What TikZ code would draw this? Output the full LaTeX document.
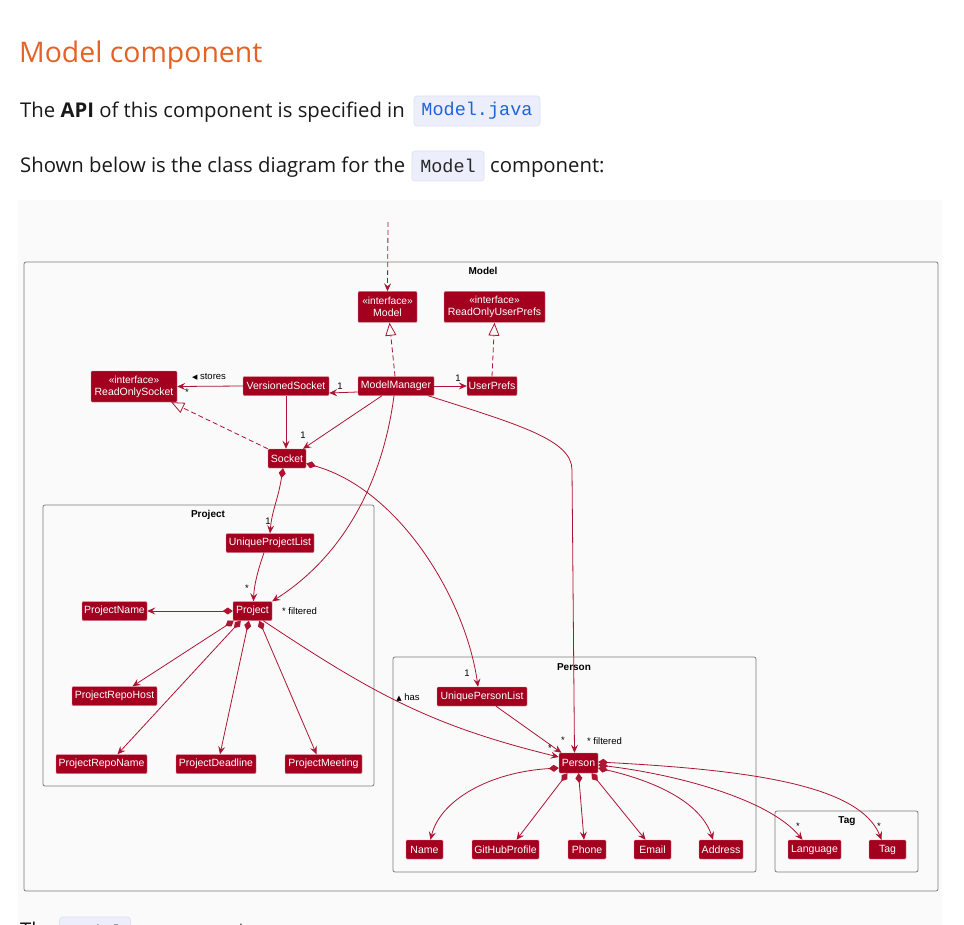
\documentclass[tikz,border=0pt]{standalone}
\usepackage{fontspec}
\setmainfont{Open Sans}
\newfontfamily\umlfont{Liberation Sans}
\newfontfamily\symfont{DejaVu Sans}
\newfontfamily\codefont{Liberation Mono}
\usetikzlibrary{arrows.meta}
\definecolor{umlfill}{RGB}{163,0,32}
\definecolor{umledge}{RGB}{172,20,50}
\definecolor{umlrim}{RGB}{225,140,150}
\definecolor{pkggray}{RGB}{125,125,125}
\definecolor{headorange}{RGB}{229,98,38}
\definecolor{codebg}{RGB}{236,239,251}
\definecolor{codeborder}{RGB}{220,224,242}
\definecolor{codeblue}{RGB}{30,100,215}
\definecolor{codedark}{RGB}{40,40,40}
\definecolor{panelbg}{RGB}{250,250,250}
\definecolor{bodytext}{RGB}{25,25,25}
\begin{document}
\begin{tikzpicture}[x=1pt,y=-1pt,
  cls/.style={fill=umlfill, draw=umlrim, line width=0.4pt, text=white,
    font=\umlfont\fontsize{10.5}{12}\selectfont, inner sep=0pt,
    minimum height=19pt, rounded corners=1pt},
  iface/.style={cls, minimum height=31pt, align=center},
  pkg/.style={draw=pkggray, line width=0.8pt, rounded corners=2pt},
  pkgtitle/.style={font=\umlfont\bfseries\fontsize{10}{12}\selectfont, inner sep=0pt},
  lbl/.style={font=\umlfont\fontsize{9.5}{11}\selectfont, inner sep=0pt, text=black},
  edge/.style={draw=umledge, line width=0.8pt, -{Stealth[length=8pt,width=7pt,inset=3pt]}},
  comp/.style={draw=umledge, line width=0.8pt, {Diamond[length=10pt,width=7pt]}-{Stealth[length=8pt,width=7pt,inset=3pt]}},
  real/.style={draw=umledge, line width=0.8pt, dash pattern=on 5pt off 3pt, -{Triangle[open,length=13pt,width=11pt]}},
  body/.style={font=\fontsize{20.3}{24}\selectfont, text=bodytext, inner sep=0pt, anchor=base west},
  codebox/.style={fill=codebg, draw=codeborder, line width=0.6pt, rounded corners=3pt, inner sep=0pt, minimum height=30pt, font=\codefont\fontsize{18.5}{20}\selectfont}
]
\useasboundingbox (0,0) rectangle (964,925);
\clip (0,0) rectangle (964,925);
\fill[white] (0,0) rectangle (964,925);
\fill[panelbg] (18,200) rectangle (942,925);

% header text
\node[anchor=base west, inner sep=0pt, text=headorange, font=\fontsize{28.4}{32}\selectfont] (title) at (19,63) {Model component};
\node[body] (l2) at (20,118) {The \textbf{API} of this component is specified in};
\node[codebox, minimum width=126pt, text=codeblue] (c1) at (477,111) {Model.java};
\node[body] (l3) at (20,173) {Shown below is the class diagram for the};
\node[codebox, minimum width=72pt, text=codedark] (c2) at (448,166) {Model};
\node[body] (l3b) at (490,173) {component:};
\node[body] (l4) at (20,937) {The};
\node[codebox, minimum width=71pt, text=codedark] (c3) at (95,932) {Model};
\node[body] (l4b) at (136,937) {component};

% packages
\draw[pkg] (24,262) rectangle (938,891);
\node[pkgtitle] (tmodel) at (483,271) {Model};
\draw[pkg] (43,505) rectangle (374,786);
\node[pkgtitle] (tproject) at (208,515) {Project};
\draw[pkg] (393,657) rectangle (756,872);
\node[pkgtitle] (tperson) at (574,667) {Person};
\draw[pkg] (775,811) rectangle (918,872);
\node[pkgtitle] (ttag) at (847,821) {Tag};

% classes
\node[iface, minimum width=59pt] (model) at (387.5,307) {{\fontsize{10.2}{12}\selectfont «interface»}\\Model};
\node[iface, minimum width=101pt] (rup) at (494.5,307) {{\fontsize{10.2}{12}\selectfont «interface»}\\ReadOnlyUserPrefs};
\node[iface, minimum width=86pt] (ros) at (134,386.5) {{\fontsize{10.2}{12}\selectfont «interface»}\\ReadOnlySocket};
\node[cls, minimum width=86pt] (vs) at (286,386) {VersionedSocket};
\node[cls, minimum width=76pt] (mm) at (396,386) {ModelManager};
\node[cls, minimum width=50pt] (up) at (492,386) {UserPrefs};
\node[cls, minimum width=38pt] (sock) at (287,458.5) {Socket};
\node[cls, minimum width=88pt] (upjl) at (270,543) {UniqueProjectList};
\node[cls, minimum width=39pt] (proj) at (252.5,611) {Project};
\node[cls, minimum width=65pt] (pname) at (114.5,611) {ProjectName};
\node[cls, minimum width=85pt] (prh) at (114.5,696) {ProjectRepoHost};
\node[cls, minimum width=91pt] (prn) at (101.5,764) {ProjectRepoName};
\node[cls, minimum width=80pt] (pdl) at (216,764) {ProjectDeadline};
\node[cls, minimum width=77pt] (pmt) at (323.5,764) {ProjectMeeting};
\node[cls, minimum width=90pt] (upl) at (482,696.5) {UniquePersonList};
\node[cls, minimum width=39pt, minimum height=20pt] (person) at (578.5,763) {Person};
\node[cls, minimum width=37pt] (name) at (424.5,849.5) {Name};
\node[cls, minimum width=67pt] (gh) at (505.5,849.5) {GitHubProfile};
\node[cls, minimum width=38pt] (phone) at (587,849.5) {Phone};
\node[cls, minimum width=37pt] (email) at (652.5,849.5) {Email};
\node[cls, minimum width=44pt] (addr) at (721,849.5) {Address};
\node[cls, minimum width=53pt] (lang) at (814.5,849.5) {Language};
\node[cls, minimum width=37pt] (tag) at (887.5,849.5) {Tag};

% connectors
\coordinate (topin) at (388,222);
\draw[edge, dash pattern=on 5pt off 3pt] (topin) -- (model.north);
\draw[real] ([xshift=-1pt]mm.north) -- ([xshift=2pt]model.south);
\draw[real] (up.north) -- (rup.south);
\draw[real] (sock.north west) -- ([xshift=-6pt]ros.south east);
\draw[edge] (vs.west) -- (ros.east);
\draw[edge] ([yshift=-6pt]mm.west) -- ([yshift=-7pt]vs.east);
\draw[edge] (mm.east) -- (up.west);
\draw[edge] (vs.south) -- (vs.south |- sock.north);
\draw[edge] ([xshift=-14pt]mm.south) -- ([xshift=16pt]sock.north);
\draw[edge] ([xshift=-2pt]mm.south) .. controls (383,480) and (345,555) .. (proj.north east);
\draw[edge] ([xshift=32pt]mm.south) .. controls (520,425) and (572,440) .. (572,470) -- ([xshift=-4pt]person.north);
\draw[comp] ([yshift=-5pt]sock.east) .. controls (400,490) and (466,600) .. ([xshift=-4pt]upl.north);
\draw[comp] ([xshift=-4pt]sock.south) .. controls (278,500) and (272,510) .. (upjl.north);
\draw[edge] ([xshift=-6pt]upjl.south) .. controls (258,570) and (254,585) .. ([xshift=1pt]proj.north);
\draw[comp] (proj.west) -- (pname.east);
\draw[comp] ([xshift=1pt]proj.south west) -- ([xshift=18pt]prh.north);
\draw[comp] ([xshift=8pt]proj.south west) -- ([xshift=16pt]prn.north);
\draw[comp] ([xshift=16pt]proj.south west) -- ([xshift=4pt]pdl.north);
\draw[comp] ([xshift=-13pt]proj.south east) -- ([xshift=-7pt]pmt.north);
\draw[edge] ([xshift=-9pt]proj.south east) .. controls (372,693) and (431,726) .. ([yshift=6pt]person.west);
\draw[edge] ([xshift=14pt]upl.south) -- ([xshift=-17pt]person.north);
\draw[comp] ([yshift=-5pt]person.west) .. controls (490,772) and (440,800) .. ([xshift=6pt]name.north);
\draw[comp] ([xshift=-11pt]person.south) -- ([xshift=11pt]gh.north);
\draw[comp] (person.south) -- ([xshift=-3pt]phone.north);
\draw[comp] ([xshift=13pt]person.south) -- ([xshift=-7pt]email.north);
\draw[comp] ([yshift=-5pt]person.east) .. controls (650,780) and (700,800) .. ([xshift=-8pt]addr.north);
\draw[comp] ([yshift=-2pt]person.east) .. controls (680,775) and (770,800) .. ([xshift=-12pt]lang.north);
\draw[comp] ([yshift=1pt]person.east) .. controls (750,770) and (860,785) .. ([xshift=-6pt]tag.north);

% labels
\node[lbl] (lstores) at (209,377) {{\symfont\fontsize{7}{8}\selectfont ◀} stores};
\node[lbl] (m1) at (187,392) {*};
\node[lbl] (m2) at (340,386) {1};
\node[lbl] (m3) at (458,378) {1};
\node[lbl] (m4) at (303,435) {1};
\node[lbl] (m5) at (268,521) {1};
\node[lbl] (m6) at (247,588) {*};
\node[lbl] (m7) at (299.5,611) {* filtered};
\node[lbl] (m8) at (467,673) {1};
\node[lbl] (lhas) at (408,697) {{\symfont\fontsize{7}{8}\selectfont ▲} has};
\node[lbl] (m9) at (550,748) {*};
\node[lbl] (m10) at (563,740) {*};
\node[lbl] (m11) at (604.5,741) {* filtered};
\node[lbl] (m12) at (798,826) {*};
\node[lbl] (m13) at (879,826) {*};
\end{tikzpicture}
\end{document}
